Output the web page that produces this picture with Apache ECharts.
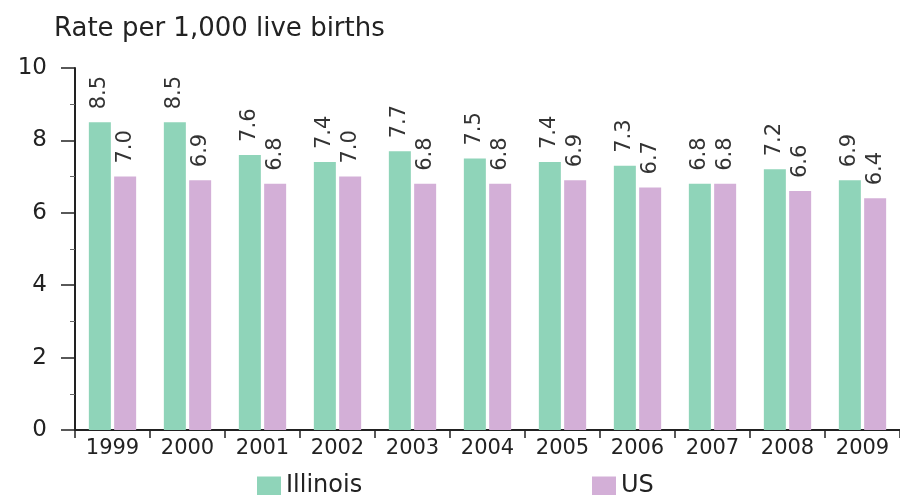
<!DOCTYPE html>
<html>
<head>
<meta charset="utf-8">
<script src="https://cdn.jsdelivr.net/npm/echarts@6/dist/echarts.min.js"></script>
<style>
  html, body { margin: 0; padding: 0; background: #fff; }
  #chart { width: 900px; height: 495px; }
</style>
</head>
<body>
<div id="chart"></div>
<script>
// Infant mortality rate per 1,000 live births, Illinois vs US
const years = ['1999', '2000', '2001', '2002', '2003', '2004', '2005', '2006', '2007', '2008', '2009'];
const illinois = [8.5, 8.5, 7.6, 7.4, 7.7, 7.5, 7.4, 7.3, 6.8, 7.2, 6.9];
const us = [7.0, 6.9, 6.8, 7.0, 6.8, 6.8, 6.9, 6.7, 6.8, 6.6, 6.4];
const yTicks = [0, 2, 4, 6, 8, 10];

const FONT = 'DejaVu Sans';
const TEXT = '#222';
const GREEN = '#8fd4b9';
const PURPLE = '#d3afd7';

const valueLabel = {
  show: true,
  position: 'top',
  distance: 13,
  rotate: 90,
  align: 'left',
  verticalAlign: 'middle',
  fontFamily: FONT,
  fontSize: 21,
  color: '#333',
  formatter: p => p.value.toFixed(1)
};

const legendText = { fontFamily: FONT, fontSize: 24, color: TEXT };

const chart = echarts.init(document.getElementById('chart'), null, { renderer: 'canvas' });
chart.setOption({
  animation: false,
  backgroundColor: '#fff',
  title: {
    text: 'Rate per 1,000 live births',
    left: 49,
    top: 11,
    textStyle: { fontFamily: FONT, fontSize: 26, fontWeight: 'normal', color: TEXT }
  },
  legend: [
    {
      data: ['Illinois'],
      left: 252,
      top: 469,
      itemWidth: 24,
      itemHeight: 19,
      itemGap: 0,
      textStyle: legendText,
      icon: 'rect'
    },
    {
      data: ['US'],
      left: 587,
      top: 469,
      itemWidth: 24,
      itemHeight: 19,
      textStyle: legendText,
      icon: 'rect'
    }
  ],
  grid: { left: 75, right: -5, top: 68, bottom: 65, containLabel: false },
  xAxis: {
    type: 'category',
    data: years,
    axisLine: { lineStyle: { color: TEXT, width: 2 } },
    axisTick: { show: true, length: 8, lineStyle: { color: TEXT, width: 1.5 } },
    axisLabel: {
      margin: 8,
      fontFamily: FONT,
      fontSize: 21,
      color: TEXT
    }
  },
  yAxis: {
    type: 'value',
    min: yTicks[0],
    max: yTicks[yTicks.length - 1],
    interval: 2,
    axisLine: { show: true, lineStyle: { color: TEXT, width: 2 } },
    axisTick: { show: true, length: 14, lineStyle: { color: TEXT, width: 1.5 } },
    minorTick: { show: true, splitNumber: 2, length: 5, lineStyle: { color: '#666', width: 1 } },
    splitLine: { show: false },
    axisLabel: {
      margin: 28,
      fontFamily: FONT,
      fontSize: 23,
      color: TEXT
    }
  },
  series: [
    {
      name: 'Illinois',
      type: 'bar',
      data: illinois,
      barWidth: 22,
      barGap: '15%',
      itemStyle: { color: GREEN },
      label: valueLabel
    },
    {
      name: 'US',
      type: 'bar',
      data: us,
      barWidth: 22,
      itemStyle: { color: PURPLE },
      label: valueLabel
    }
  ]
});
</script>
</body>
</html>
